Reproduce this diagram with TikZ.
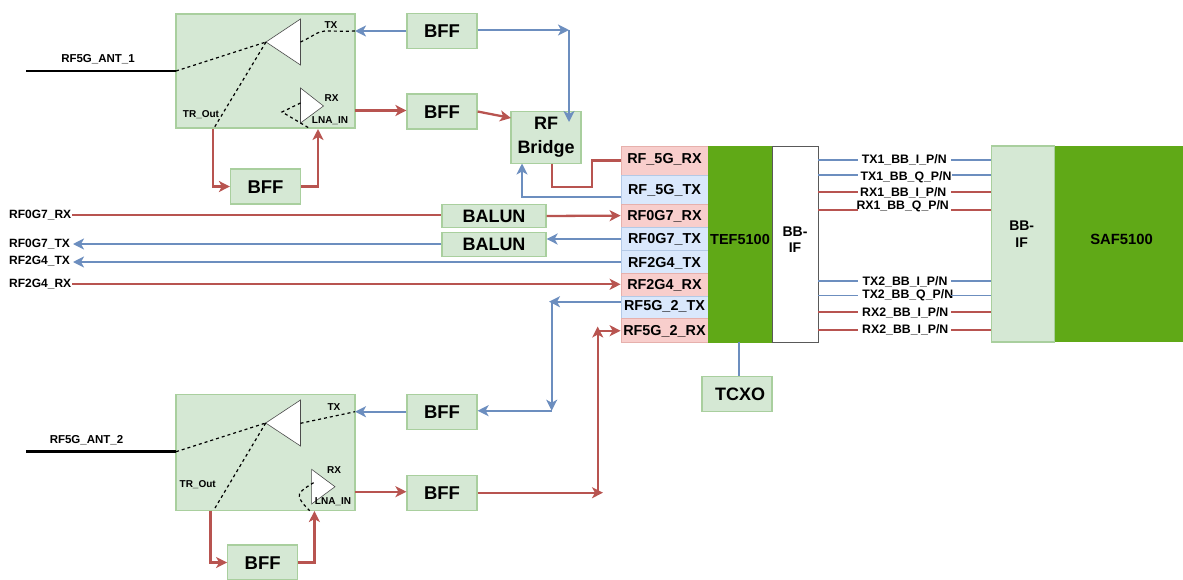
\documentclass[tikz,border=0pt]{standalone}
\usepackage{fontspec}
\setmainfont{Liberation Sans}
\usetikzlibrary{arrows.meta}
\definecolor{gfill}{HTML}{D5E8D4}
\definecolor{gline}{HTML}{A9CF9E}
\definecolor{rfill}{HTML}{F8CECC}
\definecolor{rline}{HTML}{E6B0AC}
\definecolor{bfill}{HTML}{DAE8FC}
\definecolor{bline}{HTML}{B4C9E6}
\definecolor{dgreen}{HTML}{60A917}
\definecolor{redw}{HTML}{B85450}
\definecolor{bluew}{HTML}{6C8EBF}
\newcommand{\fs}[1]{\fontsize{#1}{#1}\selectfont}
\tikzset{
  x=1pt,y=-1pt,
  gbox/.style={draw=gline,fill=gfill,line width=1.2pt,inner sep=0pt,align=center},
  bfbox/.style={gbox,minimum width=70pt,minimum height=35pt,text height=13.2pt,text depth=0pt,font=\fs{18.5}\bfseries},
  pinr/.style={draw=rline,fill=rfill,line width=.8pt,inner sep=0pt,minimum width=87pt,text height=10.3pt,font=\fs{14.4}\bfseries},
  pinb/.style={draw=bline,fill=bfill,line width=.8pt,inner sep=0pt,minimum width=87pt,text height=10.3pt,font=\fs{14.4}\bfseries},
  smalltxt/.style={inner sep=0pt,font=\fs{10}\bfseries},
  sig/.style={inner sep=0pt,font=\fs{11.5}\bfseries},
  sigl/.style={inner sep=0pt,anchor=west,font=\fs{12}\bfseries},
  bbtxt/.style={inner sep=0pt,font=\fs{12.3}\bfseries},
  rw/.style={draw=redw,line width=2.3pt},
  bw/.style={draw=bluew,line width=2.3pt},
  tip/.style={-{Stealth[length=11pt,width=11pt,inset=3pt]}},
  dash1/.style={draw=black,line width=1.2pt,dash pattern=on 3pt off 3pt},
  tri/.style={draw=black!70,fill=white,line width=.6pt},
}
% name, text, label x, label y, line y, wire style, right start x
\newcommand{\bbwire}[7]{%
  \node[bbtxt] (lab#1) at (#3,#4) {#2};
  \coordinate (l#1) at (858,#5);
  \coordinate (r#1) at (#7,#5);
  \draw[#6] (iftef.east |- l#1) -- (l#1);
  \draw[#6] (r#1) -- (ifsaf.west |- r#1);
}
\begin{document}
\begin{tikzpicture}
\useasboundingbox (0,0) rectangle (1183,579);
% ---------- top switch block
\node[gbox,minimum width=179pt,minimum height=114pt] (swa) at (265.5,71) {};
\coordinate (ta) at (266,42); \coordinate (tb) at (300.5,19); \coordinate (tc) at (300.5,65);
\draw[tri] (ta) -- (tb) -- (tc) -- cycle;
\coordinate (ra) at (323.5,106); \coordinate (rb) at (300.5,88); \coordinate (rc) at (300.5,123);
\draw[tri] (ra) -- (rb) -- (rc) -- cycle;
\coordinate (swaant) at (176,71);
\coordinate (swatr) at (214,128);
\coordinate (swatx) at (355,31);
\coordinate (swarx) at (355,110.5);
\coordinate (swalna) at (318,129);
\coordinate (swatrb) at (213,129);
\draw[dash1] (swaant) -- (ta);
\draw[dash1] (ta) -- (swatr);
\draw[dash1] (300.5,42) .. controls (312,37) and (318,31) .. (325,31) .. controls (335,31) and (345,31.5) .. (swatx);
\draw[dash1] (300.5,103) -- (282,112) -- (309,128);
\node[smalltxt] (ltxa) at (331,25.5) {TX};
\node[smalltxt] (lrxa) at (331.5,98) {RX};
\node[smalltxt] (llnaa) at (330,121) {LNA\_IN};
\node[smalltxt] (ltra) at (201,115) {TR\_Out};
\node[sig] (anta) at (98,59) {RF5G\_ANT\_1};
\coordinate (antae) at (26,71);
\draw[black,line width=2.6pt] (antae) -- (swaant);
\node[bfbox] (bffa) at (442,31) {BFF};
\node[bfbox] (bffb) at (442,111.5) {BFF};
\node[bfbox] (bffc) at (265.5,186.5) {BFF};
\node[gbox,minimum width=70pt,minimum height=52pt,font=\fs{18}\bfseries] (rfb) at (546,137.5) {\rule{0pt}{0pt}RF\\[6pt]Bridge};
\coordinate (ja) at (569,30);
\coordinate (jb) at (569,122);
\coordinate (jc) at (569,30);
\coordinate (bbin) at (511,118);
\coordinate (bba) at (552,163.5);
\coordinate (bbb) at (522,163.5);
\draw[bw,tip] (bffa.west) -- (bffa.west -| swatx);
\draw[bw,tip] (bffa.east |- ja) -- (ja);
\draw[bw,tip] (jc) -- (jb);
\draw[rw,tip] (swarx) -- (bffb.west |- swarx);
\draw[rw,tip] (bffb.east) -- (bbin);
\draw[rw,tip] (swatrb) |- (bffc.west);
\draw[rw,tip] (bffc.east) -| (swalna);
% ---------- TEF5100 column
\node[pinr,minimum height=29.3pt,text depth=4.6pt] (p1) at (664.5,160.6) {RF\_5G\_RX};
\node[pinb,minimum height=28.7pt,text depth=0pt] (p2) at (664.5,189.6) {RF\_5G\_TX};
\node[pinr,minimum height=23.3pt,text depth=0pt] (p3) at (664.5,215.6) {RF0G7\_RX};
\node[pinb,minimum height=23.4pt,text depth=0.6pt] (p4) at (664.5,239) {RF0G7\_TX};
\node[pinb,minimum height=22.6pt,text depth=0pt] (p5) at (664.5,262) {RF2G4\_TX};
\node[pinr,minimum height=22.7pt,text depth=0pt] (p6) at (664.5,284.6) {RF2G4\_RX};
\node[pinb,minimum height=22.3pt,text depth=4.2pt] (p7) at (664.5,307.1) {RF5G\_2\_TX};
\node[pinr,minimum height=23.7pt,text depth=0pt] (p8) at (664.5,330.2) {RF5G\_2\_RX};
\node[draw=dgreen,fill=dgreen,line width=.5pt,inner sep=0pt,minimum width=64pt,minimum height=196pt,text height=10.4pt,text depth=10pt,font=\fs{14.5}\bfseries] (tef) at (740,244) {TEF5100};
\node[draw=black!65,fill=white,line width=.8pt,inner sep=0pt,minimum width=46pt,minimum height=196pt] (iftef) at (795,244) {};
\node[inner sep=0pt,align=center,font=\fs{14}\bfseries] (iftxt) at (795,239.5) {BB-\\[1.5pt]IF};
\node[gbox,minimum width=70pt,minimum height=35pt,font=\fs{18}\bfseries] (tcxo) at (737,394) {\hspace*{6pt}TCXO};
\coordinate (tefb) at (739,342);
\draw[bw] (tefb) -- (tcxo.north -| tefb);
% ---------- BALUNs and left signals
\node[gbox,minimum width=104pt,minimum height=23.5pt,font=\fs{18}\bfseries] (bala) at (494,216) {BALUN};
\node[gbox,minimum width=104pt,minimum height=23.5pt,font=\fs{18}\bfseries] (balb) at (494,244.5) {BALUN};
\node[sigl] (s1) at (9,215) {RF0G7\_RX};
\node[sigl] (s2) at (9,244) {RF0G7\_TX};
\node[sigl] (s3) at (9,261) {RF2G4\_TX};
\node[sigl] (s4) at (9,284.5) {RF2G4\_RX};
\coordinate (e1) at (72,215);
\coordinate (e2) at (73,244);
\coordinate (e3) at (73,262);
\coordinate (e4) at (72,284.3);
\draw[rw] (e1) -- (bala.west |- e1);
\draw[rw,tip] (bala.east) -- (p3.west);
\draw[bw,tip] (p4.west) -- (balb.east |- p4.west);
\draw[bw,tip] (balb.west |- e2) -- (e2);
\draw[bw,tip] (p5.west) -- (e3);
\draw[rw,tip] (e4) -- (p6.west |- e4);
% RF bridge to pins
\coordinate (c1) at (592,187);
\coordinate (c2) at (621,197);
\draw[rw] (bba) |- (c1) |- (p1.west);
\draw[bw,tip] (c2) -| (bbb);
% ---------- bottom switch block
\node[gbox,minimum width=179pt,minimum height=116pt] (swb) at (265.5,452.3) {};
\coordinate (ua) at (265.7,423); \coordinate (ub) at (300.5,400); \coordinate (uc) at (300.5,446);
\draw[tri] (ua) -- (ub) -- (uc) -- cycle;
\coordinate (va) at (335,486.7); \coordinate (vb) at (311.6,469.3); \coordinate (vc) at (311.6,504);
\draw[tri] (va) -- (vb) -- (vc) -- cycle;
\coordinate (swbant) at (176,451.7);
\coordinate (swbtr) at (214.7,508.5);
\coordinate (swbtx) at (355,411.7);
\coordinate (swbrx) at (355,491.7);
\coordinate (swblna) at (314.4,511);
\coordinate (swbtrb) at (210.4,510.5);
\draw[dash1] (swbant) -- (ua);
\draw[dash1] (ua) -- (swbtr);
\draw[dash1] (300.5,423.3) -- (swbtx);
\draw[dash1] (313.6,482.7) .. controls (303,489) and (298,493) .. (299.3,497) .. controls (301,502) and (305,506) .. (309.6,510.7);
\node[smalltxt] (ltxb) at (334,406.7) {TX};
\node[smalltxt] (lrxb) at (334,470) {RX};
\node[smalltxt] (llnab) at (333,501.7) {LNA\_IN};
\node[smalltxt] (ltrb) at (197.7,484.3) {TR\_Out};
\node[sig] (antb) at (86.5,440) {RF5G\_ANT\_2};
\coordinate (antbe) at (26,451.7);
\draw[black,line width=2.6pt] (antbe) -- (swbant);
\node[bfbox] (bffd) at (442,411.7) {BFF};
\node[bfbox] (bffe) at (442,492.7) {BFF};
\node[bfbox] (bfff) at (262.7,562.5) {BFF};
\coordinate (ka) at (551.7,410.7);
\coordinate (kb) at (549,301.7);
\coordinate (kc) at (551.7,301.7);
\coordinate (kd) at (597.7,326.5);
\coordinate (ke) at (597.7,330.7);
\coordinate (kf) at (603,492.7);
\coordinate (kg) at (597.7,492.7);
\draw[bw,tip] (bffd.west) -- (swbtx);
\draw[bw,tip] (ka) -- (bffd.east |- ka);
\draw[bw,tip] (kc) -- (ka);
\draw[bw,tip] (p7.west |- kb) -- (kb);
\draw[rw,tip] (swbrx) -- (bffe.west |- swbrx);
\draw[rw,tip] (bffe.east) -- (kf);
\draw[rw,tip] (kg) -- (kd);
\draw[rw,tip] (ke) -- (p8.west |- ke);
\draw[rw,tip] (swbtrb) |- (bfff.west);
\draw[rw,tip] (bfff.east) -| (swblna);
% ---------- SAF5100
\node[gbox,minimum width=63.5pt,minimum height=196pt] (ifsaf) at (1023,244) {};
\node[inner sep=0pt,align=center,font=\fs{14}\bfseries] (ifsaft) at (1021.7,234) {BB-\\[3.5pt]IF};
\node[fill=dgreen,inner sep=0pt,minimum width=129pt,minimum height=196pt,text height=10.6pt,text depth=10pt,font=\fs{14.8}\bfseries,text width=125pt,align=center] (saf) at (1119,244) {\hspace*{5pt}SAF5100};
% ---------- BB lines
\bbwire{a}{TX1\_BB\_I\_P/N}{904.3}{160}{160.3}{bw}{951}
\bbwire{b}{TX1\_BB\_Q\_P/N}{906}{177}{175}{bw}{952}
\bbwire{c}{RX1\_BB\_I\_P/N}{903.3}{192.3}{192.3}{rw}{951}
\bbwire{d}{RX1\_BB\_Q\_P/N}{902.7}{206}{209.7}{rw}{951}
\bbwire{e}{TX2\_BB\_I\_P/N}{905}{281.3}{281.3}{bw}{951}
\bbwire{f}{TX2\_BB\_Q\_P/N}{907.7}{295}{295.3}{draw=bluew,line width=.9pt}{951}
\bbwire{g}{RX2\_BB\_I\_P/N}{905.3}{312.3}{312.3}{rw}{951}
\bbwire{h}{RX2\_BB\_I\_P/N}{905.3}{329.7}{329.7}{rw}{951}
\end{tikzpicture}
\end{document}
